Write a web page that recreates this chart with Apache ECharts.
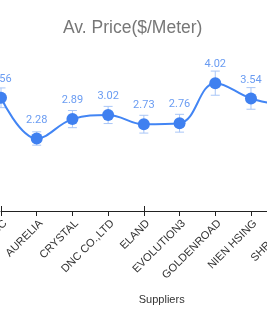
<!DOCTYPE html>
<html><head><meta charset="utf-8">
<script src="https://cdn.jsdelivr.net/npm/echarts@6/dist/echarts.min.js"></script>
<style>html,body{margin:0;padding:0;background:#fff;overflow:hidden;width:267px;height:322px}#c{width:340px;height:322px}</style>
</head><body><div id="c"></div>
<script>
const categories = ["ABC", "AURELIA", "CRYSTAL", "DNC CO.,LTD", "ELAND", "EVOLUTION3", "GOLDENROAD", "NIEN HSING", "SHRADHA", "TEXMART"];
const avgPrice = [3.56, 2.28, 2.89, 3.02, 2.73, 2.76, 4.02, 3.54, 3.30, 3.10];
const errorMargin = [0.31, 0.21, 0.27, 0.27, 0.28, 0.28, 0.38, 0.34, 0.30, 0.30];
const titleText = "Av. Price($/Meter)";
const xName = "Suppliers";

const errData = avgPrice.map((v, i) => [i, v - errorMargin[i], v + errorMargin[i]]);
const chart = echarts.init(document.getElementById('c'));
const axisCommon = {type: 'category', data: categories, boundaryGap: false};
chart.setOption({
  animation: false,
  title: {text: titleText, left: 63, top: 19, padding: 0,
    textStyle: {fontFamily: 'Liberation Sans', fontSize: 17.5, fontWeight: 'normal', color: '#777'}},
  grid: {left: 1, right: 17.6, top: 52, bottom: 111, containLabel: false, outerBoundsMode: 'none'},
  xAxis: [
    Object.assign({}, axisCommon, {
      name: xName, nameLocation: 'middle', nameGap: 83,
      nameTextStyle: {fontFamily: 'Liberation Sans', fontSize: 11, color: '#333'},
      axisLine: {lineStyle: {color: '#222', width: 1}},
      axisTick: {show: true, length: 5, lineStyle: {color: '#222'}},
      axisLabel: {rotate: 45, margin: 15, fontFamily: 'Liberation Sans', fontSize: 11, color: '#333', interval: 0,
        showMinLabel: true, showMaxLabel: true, hideOverlap: false, padding: [0, -6, 0, 0]},
      splitLine: {show: false}
    }),
    Object.assign({}, axisCommon, {
      position: 'bottom', axisLine: {show: false},
      axisTick: {show: true, inside: true, length: 5, lineStyle: {color: '#222'}},
      axisLabel: {show: false}, splitLine: {show: false}
    })
  ],
  yAxis: {type: 'value', min: 0, max: 5, show: false, splitLine: {show: false}},
  series: [
    {
      type: 'custom', z: 1, data: errData, encode: {x: 0, y: [1, 2]},
      renderItem: function (params, api) {
        const i = api.value(0);
        const lo = api.coord([i, api.value(1)]);
        const hi = api.coord([i, api.value(2)]);
        const w = 4.5;
        const st = {stroke: '#a9c6f7', lineWidth: 1};
        return {type: 'group', children: [
          {type: 'line', shape: {x1: lo[0], y1: lo[1], x2: hi[0], y2: hi[1]}, style: st},
          {type: 'line', shape: {x1: hi[0] - w, y1: hi[1], x2: hi[0] + w, y2: hi[1]}, style: st},
          {type: 'line', shape: {x1: lo[0] - w, y1: lo[1], x2: lo[0] + w, y2: lo[1]}, style: st}
        ]};
      }
    },
    {
      type: 'line', z: 3, data: avgPrice, smooth: 0.4,
      symbol: 'circle', symbolSize: 12,
      itemStyle: {color: '#3f80f0'},
      lineStyle: {color: '#4285f4', width: 2},
      label: {show: true, position: 'top', distance: 7, color: '#6a9cf2', fontSize: 11, fontFamily: 'Roboto',
        formatter: p => p.value.toFixed(2)}
    }
  ]
});
</script></body></html>
